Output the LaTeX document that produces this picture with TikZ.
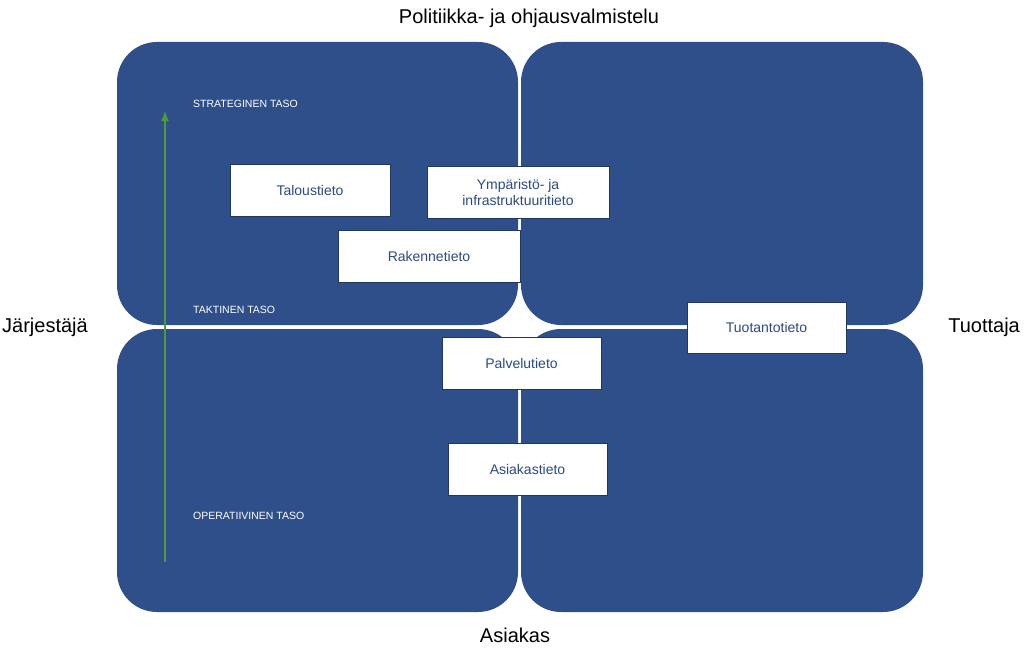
\documentclass[tikz,border=0pt]{standalone}
\usepackage{fontspec}
\usetikzlibrary{arrows.meta}
\setmainfont{Liberation Sans}
\definecolor{quad}{HTML}{2F4F8A}
\definecolor{boxtxt}{HTML}{2B4A86}
\definecolor{arr}{HTML}{4E9A3A}
\begin{document}
\begin{tikzpicture}[x=1pt,y=-1pt,
  quadbox/.style={fill=quad,draw=none,rounded corners=40pt},
  infobox/.style={draw=quad!70!black,line width=0.8pt,fill=white,text=boxtxt,font=\fontsize{14}{16}\selectfont,align=center,inner sep=0pt},
  level/.style={text=white,font=\fontsize{10.5}{12}\selectfont,anchor=west,inner sep=0pt},
  outer/.style={font=\fontsize{20}{24}\selectfont,inner sep=0pt}]
\useasboundingbox (0,0) rectangle (1024,650);
\fill[quadbox] (117,42) rectangle (518,325);
\fill[quadbox] (521,42) rectangle (923,325);
\fill[quadbox] (117,329) rectangle (518,612);
\fill[quadbox] (521,329) rectangle (923,612);
\node[level] (s) at (193,104) {STRATEGINEN TASO};
\node[level] (t) at (193,310) {TAKTINEN TASO};
\node[level] (o) at (193,516) {OPERATIIVINEN TASO};
\coordinate (a1) at (165,562);
\coordinate (a2) at (165,111);
\draw[arr,line width=1.3pt,-{Latex[length=10pt,width=8pt]}] (a1) -- (a2);
\node[infobox,minimum width=160pt,minimum height=52pt] (talous) at (310,190) {Taloustieto};
\node[infobox,minimum width=182pt,minimum height=52pt] (ymp) at (518,192) {Ympäristö- ja\\infrastruktuuritieto};
\node[infobox,minimum width=182pt,minimum height=52pt] (rak) at (429,256) {Rakennetieto};
\node[infobox,minimum width=159pt,minimum height=51pt] (tuot) at (766.5,327.5) {Tuotantotieto};
\node[infobox,minimum width=159pt,minimum height=52pt] (palv) at (521.5,363) {Palvelutieto};
\node[infobox,minimum width=159pt,minimum height=52pt] (asi) at (527.5,469) {Asiakastieto};
\node[outer] (pol) at (529,18) {Politiikka- ja ohjausvalmistelu};
\node[outer,anchor=west] (jar) at (2,327) {Järjestäjä};
\node[outer,anchor=east] (tuo) at (1020,327) {Tuottaja};
\node[outer] (asiak) at (515,635) {Asiakas};
\end{tikzpicture}
\end{document}
